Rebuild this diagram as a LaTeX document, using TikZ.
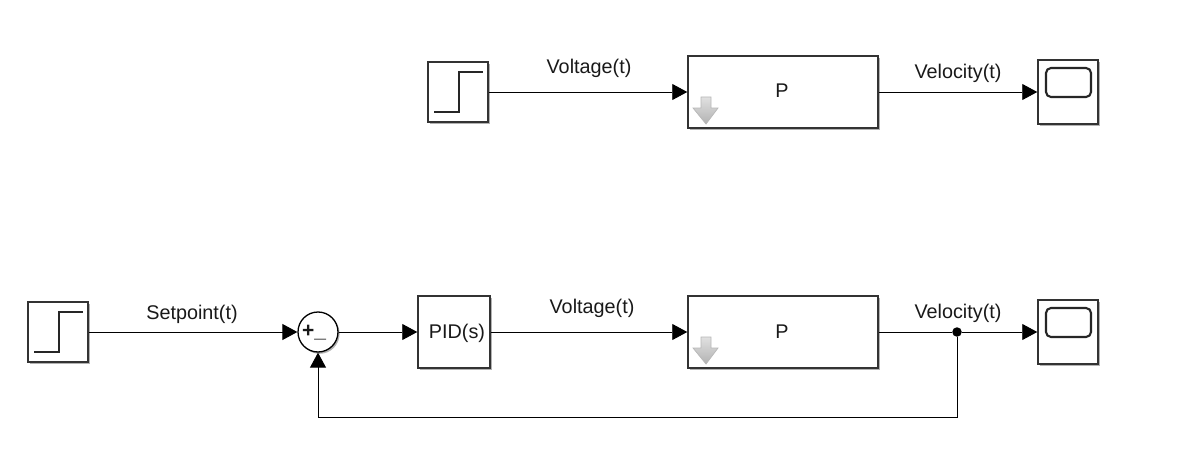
\documentclass[tikz,border=0pt]{standalone}
\usepackage{fontspec}
\setmainfont{Liberation Sans}
\usetikzlibrary{arrows.meta,shadows,calc}
\tikzset{
  sh/.style={drop shadow={shadow xshift=1.6pt,shadow yshift=-1.8pt,fill=black,opacity=0.3}},
  block/.style={draw=black!80,line width=1.5pt,fill=white,sh,inner sep=0pt},
  sumblock/.style={circle,draw=black,line width=1.3pt,fill=white,sh,minimum size=40pt,inner sep=0pt},
  lbl/.style={inner sep=0pt,font=\fontsize{19.8}{22}\selectfont,text=black!90},
  conn/.style={draw=black,line width=0.9pt,-{Triangle[length=15pt,width=16pt]}},
  wire/.style={draw=black,line width=0.9pt},
  glyph/.style={draw=black!85,line width=2.1pt},
  icon/.style={top color=black!12,bottom color=black!30,draw=black!28,line width=0.7pt},
  dot/.style={circle,fill=black,inner sep=0pt,minimum size=9.5pt},
}
\newcommand{\stepglyph}[2]{%
  \draw[glyph] ($(#1,#2)+(6,20)$) -- ($(#1,#2)+(31,20)$) -- ($(#1,#2)+(31,-20)$) -- ($(#1,#2)+(55,-20)$);}
\newcommand{\scopeglyph}[2]{%
  \draw[glyph,rounded corners=5pt] ($(#1,#2)+(8,-24)$) rectangle ($(#1,#2)+(53,5)$);}
\newcommand{\downicon}[2]{%
  \draw[icon] (#1+13,#2) -- (#1+23,#2) -- (#1+23,#2+11) -- (#1+30,#2+11) -- (#1+18,#2+27) -- (#1+5,#2+11) -- (#1+13,#2+11) -- cycle;}
\begin{document}
\begin{tikzpicture}[x=1pt,y=-1pt]
\useasboundingbox (0,0) rectangle (1200,460);
% top row
\node[block,minimum width=60pt,minimum height=60pt] (step1) at (458,92) {};
\node[block,minimum width=190pt,minimum height=72pt] (plant1) at (783,92) {};
\node[block,minimum width=60pt,minimum height=64pt] (scope1) at (1068,92) {};
\node[lbl] at (782,91) {P};
\node[lbl] (v1) at (589,68) {Voltage(t)};
\node[lbl] (w1) at (958,73) {Velocity(t)};
\stepglyph{428}{92}
\scopeglyph{1038}{92}
\downicon{688}{97}
\draw[conn] (step1.east) -- (plant1.west);
\draw[conn] (plant1.east) -- (scope1.west);
% bottom row
\node[block,minimum width=60pt,minimum height=60pt] (step2) at (58,332) {};
\node[sumblock] (sum) at (318,332) {};
\node[lbl,font=\fontsize{21}{22}\selectfont\bfseries] (sumtext) at (314,333) {+\_};
\node[block,minimum width=72pt,minimum height=72pt] (pid) at (454,332) {};
\node[lbl] at (457,333) {PID(s)};
\node[block,minimum width=190pt,minimum height=72pt] (plant2) at (783,332) {};
\node[block,minimum width=60pt,minimum height=64pt] (scope2) at (1068,332) {};
\node[lbl] at (782,332) {P};
\node[lbl] (s2) at (192,314) {Setpoint(t)};
\node[lbl] (v2) at (592,308) {Voltage(t)};
\node[lbl] (w2) at (958,313) {Velocity(t)};
\stepglyph{28}{332}
\scopeglyph{1038}{332}
\downicon{688}{337}
\node[dot] (tap) at (957,332) {};
\coordinate (corner1) at (957,417);
\coordinate (corner2) at (318,417);
\draw[conn] (step2.east) -- (sum.west);
\draw[conn] (sum.east) -- (pid.west);
\draw[conn] (pid.east) -- (plant2.west);
\draw[wire] (plant2.east) -- (tap);
\draw[conn] (tap) -- (scope2.west);
\draw[conn] (tap) -- (corner1) -- (corner2) -- (sum.south);
\end{tikzpicture}
\end{document}
